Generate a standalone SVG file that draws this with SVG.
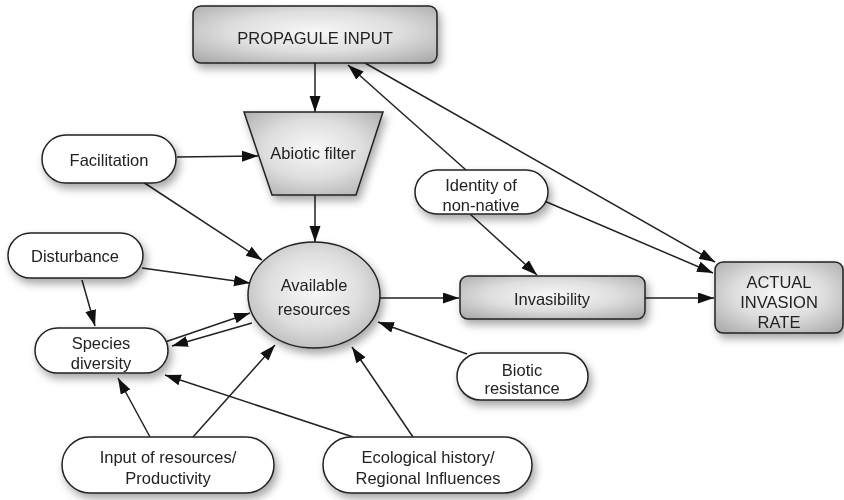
<svg xmlns="http://www.w3.org/2000/svg" width="844" height="500" viewBox="0 0 844 500">
<style>
text{font-family:"Liberation Sans",Arial,sans-serif;font-size:16.5px;fill:#222;text-anchor:middle}
.pill{fill:#fff;stroke:#222;stroke-width:1.5}
.grey{fill:url(#g);stroke:#222;stroke-width:1.5}
.c line{stroke:#222;stroke-width:1.5;marker-end:url(#a)}
</style>
<defs>
<radialGradient id="g" cx="50%" cy="45%" r="70%">
<stop offset="0" stop-color="#f8f8f8"/>
<stop offset="0.5" stop-color="#dedede"/>
<stop offset="1" stop-color="#ababab"/>
</radialGradient>
<filter id="sh" x="-20%" y="-20%" width="150%" height="160%">
<feDropShadow dx="3" dy="5" stdDeviation="4" flood-color="#000" flood-opacity="0.35"/>
</filter>
<marker id="a" markerUnits="userSpaceOnUse" markerWidth="18" markerHeight="12" refX="16" refY="5.5" orient="auto">
<path d="M0,0 L16,5.5 L0,11 Z" fill="#111"/>
</marker>
</defs>
<g class="c" id="connectors">
<line x1="315" y1="63" x2="315" y2="112"/>
<line x1="315" y1="195" x2="315" y2="242"/>
<line x1="177" y1="157" x2="258" y2="156"/>
<line x1="143" y1="182" x2="262" y2="260"/>
<line x1="142" y1="268" x2="250" y2="283"/>
<line x1="82" y1="280" x2="95" y2="326"/>
<line x1="165" y1="342" x2="250" y2="313"/>
<line x1="252" y1="323" x2="172" y2="346"/>
<line x1="150" y1="437" x2="118" y2="378"/>
<line x1="193" y1="437" x2="275" y2="345"/>
<line x1="353" y1="437" x2="165" y2="375"/>
<line x1="413" y1="437" x2="352" y2="347"/>
<line x1="467" y1="354" x2="378" y2="322"/>
<line x1="380" y1="298" x2="459" y2="298"/>
<line x1="645" y1="298" x2="714" y2="298"/>
<line x1="470" y1="214" x2="537" y2="275"/>
<line x1="542" y1="200" x2="713" y2="273"/>
<line x1="466" y1="170" x2="348" y2="65"/>
<line x1="365" y1="63" x2="715" y2="262"/>
</g>
<g id="propagule" filter="url(#sh)">
<rect class="grey" x="193" y="6" width="244" height="57" rx="8"/>
<text x="315" y="44">PROPAGULE INPUT</text>
</g>
<g id="abiotic" filter="url(#sh)">
<polygon class="grey" points="244,112 383,112 356,195 272,195"/>
<text x="313" y="159">Abiotic filter</text>
</g>
<g id="available" filter="url(#sh)">
<ellipse class="grey" cx="314" cy="295" rx="66" ry="53"/>
<text x="314" y="291">Available</text>
<text x="314" y="315">resources</text>
</g>
<g id="facilitation" filter="url(#sh)">
<rect class="pill" x="42" y="135" width="134" height="48" rx="24"/>
<text x="109" y="166">Facilitation</text>
</g>
<g id="disturbance" filter="url(#sh)">
<rect class="pill" x="8" y="233" width="135" height="45" rx="22.5"/>
<text x="75" y="262">Disturbance</text>
</g>
<g id="species" filter="url(#sh)">
<rect class="pill" x="35" y="328" width="133" height="45" rx="22.5"/>
<text x="101" y="349">Species</text>
<text x="101" y="369">diversity</text>
</g>
<g id="identity" filter="url(#sh)">
<rect class="pill" x="415" y="170" width="133" height="44" rx="22"/>
<text x="481" y="191">Identity of</text>
<text x="481" y="211">non-native</text>
</g>
<g id="invasibility" filter="url(#sh)">
<rect class="grey" x="460" y="276" width="185" height="43" rx="8"/>
<text x="552" y="305">Invasibility</text>
</g>
<g id="actual" filter="url(#sh)">
<rect class="grey" x="715" y="262" width="128" height="71" rx="8"/>
<text x="779" y="288">ACTUAL</text>
<text x="779" y="308">INVASION</text>
<text x="779" y="328">RATE</text>
</g>
<g id="biotic" filter="url(#sh)">
<rect class="pill" x="457" y="353" width="131" height="47" rx="23.5"/>
<text x="522" y="376">Biotic</text>
<text x="522" y="394">resistance</text>
</g>
<g id="input" filter="url(#sh)">
<rect class="pill" x="62" y="437" width="212" height="56" rx="28"/>
<text x="168" y="463">Input of resources/</text>
<text x="168" y="484">Productivity</text>
</g>
<g id="ecological" filter="url(#sh)">
<rect class="pill" x="323" y="437" width="209" height="56" rx="28"/>
<text x="428" y="463">Ecological history/</text>
<text x="428" y="484">Regional Influences</text>
</g>
</svg>
